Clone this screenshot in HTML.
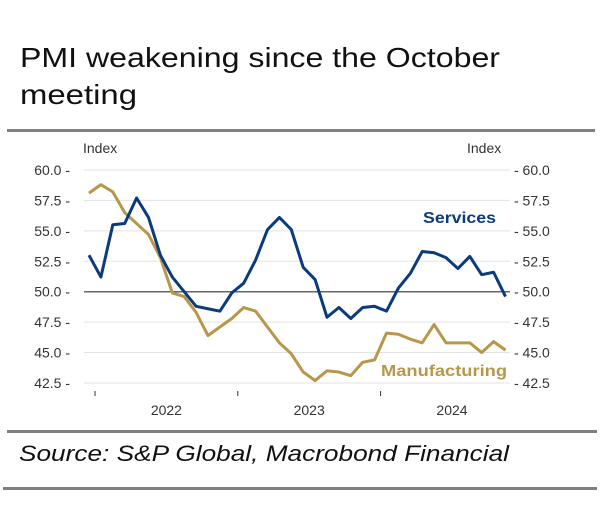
<!DOCTYPE html>
<html><head><meta charset="utf-8"><style>
body{margin:0;background:#fff;}
svg text{font-family:"Liberation Sans",sans-serif;}
</style></head><body>
<svg width="600" height="501" viewBox="0 0 600 501">
<text x="20" y="67" font-size="28" fill="#111" textLength="480" lengthAdjust="spacingAndGlyphs">PMI weakening since the October</text>
<text x="20" y="104" font-size="28" fill="#111" textLength="117" lengthAdjust="spacingAndGlyphs">meeting</text>
<rect x="7" y="129" width="588" height="3" fill="#808080"/>
<text x="83" y="153" font-size="14" fill="#333">Index</text>
<text x="467" y="153" font-size="14" fill="#333">Index</text>
<g id="grid"></g>
<g id="ticks"></g>
<g id="series"></g>
<text x="423" y="223" font-size="16" font-weight="bold" fill="#0b3a7e" textLength="73" lengthAdjust="spacingAndGlyphs">Services</text>
<text x="381" y="376" font-size="16" font-weight="bold" fill="#b8964a" textLength="126" lengthAdjust="spacingAndGlyphs">Manufacturing</text>
<rect x="7" y="430" width="590" height="3" fill="#808080"/>
<text x="19" y="461" font-size="22" font-style="italic" fill="#111" textLength="490" lengthAdjust="spacingAndGlyphs">Source: S&amp;P Global, Macrobond Financial</text>
<rect x="3" y="487" width="594" height="3" fill="#808080"/>
</svg>
<script>
const yTicks=[60,57.5,55,52.5,50,47.5,45,42.5];
const yearLabels=["2022","2023","2024"];
const services=[53.0,51.2,55.5,55.6,57.7,56.1,53.0,51.2,50.0,48.8,48.6,48.4,49.9,50.7,52.6,55.1,56.1,55.1,52.0,51.0,47.9,48.7,47.8,48.7,48.8,48.4,50.3,51.5,53.3,53.2,52.8,51.9,52.9,51.4,51.6,49.6];
const manufacturing=[58.1,58.8,58.2,56.5,55.6,54.7,52.8,49.9,49.6,48.3,46.4,47.1,47.8,48.7,48.4,47.1,45.8,44.9,43.4,42.7,43.5,43.4,43.1,44.2,44.4,46.6,46.5,46.1,45.8,47.3,45.8,45.8,45.8,45.0,45.9,45.2];
const NS="http://www.w3.org/2000/svg";
function y(v){return 170+(60-v)*12.17;}
function x(i){return 89+i*11.9;}
function mk(t,a,p){const e=document.createElementNS(NS,t);for(const k in a)e.setAttribute(k,a[k]);p.appendChild(e);return e;}
const g=document.getElementById('grid'),tk=document.getElementById('ticks'),s=document.getElementById('series');
yTicks.forEach(v=>{
 const l=mk('line',{x1:84,x2:510,y1:y(v),y2:y(v),stroke:v===50?'#666':'#e3e3e3','stroke-width':v===50?1.5:1},g);
 
 
 const t1=mk('text',{x:70,y:y(v)+5,'font-size':14,fill:'#333','text-anchor':'end'},tk);t1.textContent=v.toFixed(1)+' -';
 
 
 const t2=mk('text',{x:514,y:y(v)+5,'font-size':14,fill:'#333'},tk);t2.textContent='- '+v.toFixed(1);
 
 
});
yearLabels.forEach((lab,i)=>{
 const tx=x(0)+6+i*12*11.9;
 const l=mk('line',{x1:tx,x2:tx,y1:391,y2:396,stroke:'#333','stroke-width':1},tk);
 
 
 const t=mk('text',{x:tx+6*11.9,y:415,'font-size':14,fill:'#333','text-anchor':'middle'},tk);t.textContent=lab;
 
 
});
function line(d,c,n){const p=mk('polyline',{points:d.map((v,i)=>x(i)+','+y(v)).join(' '),fill:'none',stroke:c,'stroke-width':3,'stroke-linejoin':'round'},s);
 
 }
line(manufacturing,'#b8964a','manufacturing-line');
line(services,'#0b3a7e','services-line');
</script>
</body></html>
